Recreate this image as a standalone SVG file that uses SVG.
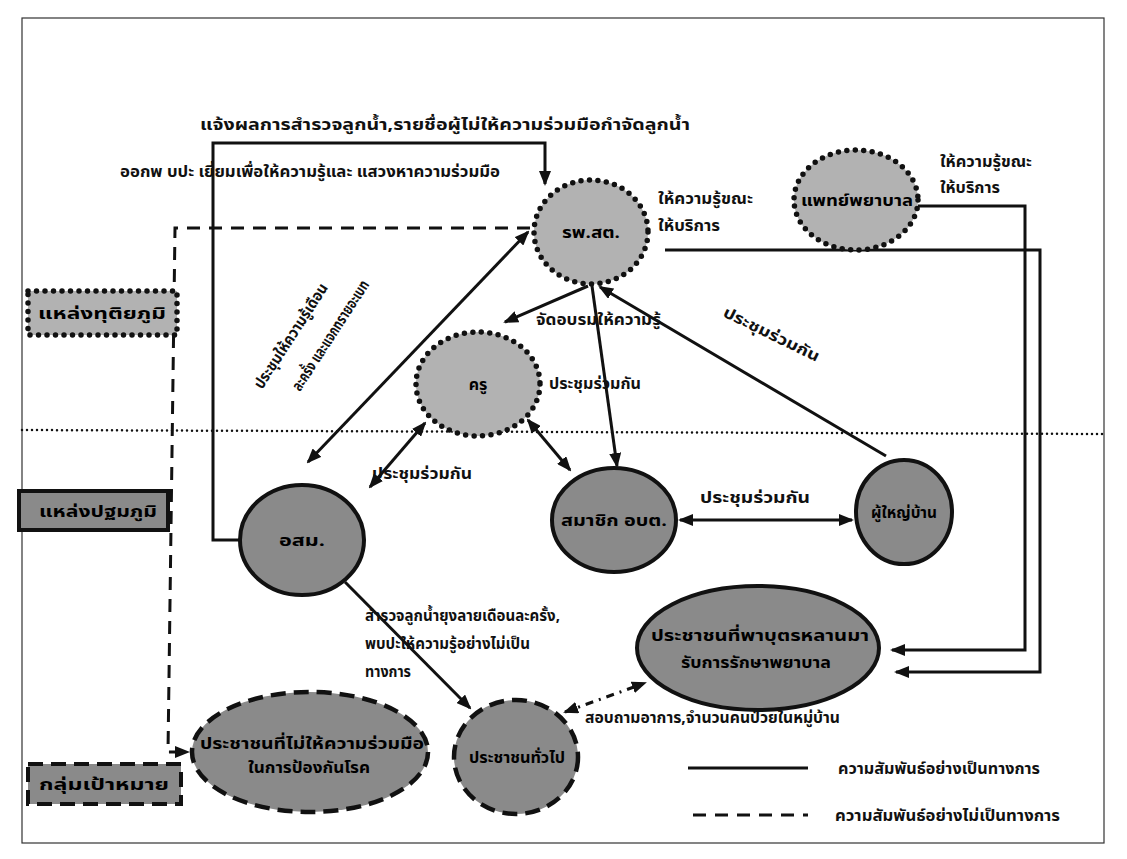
<svg xmlns="http://www.w3.org/2000/svg" width="1127" height="859" viewBox="0 0 1127 859">
<style>
.t{font-family:"Noto Sans Thai","Noto Sans","DejaVu Sans",sans-serif;font-weight:bold;font-size:15.5px;fill:#111}
.lb{font-family:"Noto Sans Thai","Noto Sans","DejaVu Sans",sans-serif;font-weight:bold;font-size:16px;fill:#000;text-anchor:middle}
.c{fill:none;stroke:#111;stroke-width:3}
.dsh{stroke-dasharray:13 9}
.dot{fill:#b2b2b2;stroke:#111;stroke-width:5.5;stroke-linecap:round;stroke-dasharray:0 8.5}
.sol{fill:#8a8a8a;stroke:#111;stroke-width:4}
.dn{fill:#8a8a8a;stroke:#111;stroke-width:4.5;stroke-dasharray:15 8}
</style>
<defs>
<marker id="a" markerWidth="15" markerHeight="12" refX="13" refY="6" orient="auto" markerUnits="userSpaceOnUse"><path d="M0,0 L15,6 L0,12 Z" fill="#111"/></marker>
<marker id="s" markerWidth="15" markerHeight="12" refX="2" refY="6" orient="auto" markerUnits="userSpaceOnUse"><path d="M15,0 L0,6 L15,12 Z" fill="#111"/></marker>
</defs>
<rect x="22" y="18" width="1082" height="825" fill="#fff" stroke="#333" stroke-width="1.2"/>
<line x1="22" y1="430" x2="1104" y2="434" stroke="#111" stroke-width="2.5" stroke-dasharray="0 5" stroke-linecap="round"/>

<g id="connectors">
<path class="c" d="M240,540 L213,540 L213,143 L545,143 L545,184" marker-end="url(#a)"/>
<path class="c dsh" d="M530,228 L175,228 L168,752 L188,752" marker-end="url(#a)"/>
<path class="c" d="M918,206 L1025,206 L1025,650 L892,650" marker-end="url(#a)"/>
<path class="c" d="M665,250 L1040,250 L1040,672 L896,672" marker-end="url(#a)"/>
<path class="c" d="M528,232 L308,462" marker-start="url(#s)" marker-end="url(#a)"/>
<path class="c" d="M588,286 L505,322" marker-end="url(#a)"/>
<path class="c" d="M592,286 L617,466" marker-end="url(#a)"/>
<path class="c" d="M886,456 L600,287" marker-end="url(#a)"/>
<path class="c" d="M425,423 L370,487" marker-start="url(#s)" marker-end="url(#a)"/>
<path class="c" d="M528,420 L570,470" marker-start="url(#s)" marker-end="url(#a)"/>
<path class="c" d="M680,520 L852,520" marker-start="url(#s)" marker-end="url(#a)"/>
<path class="c" d="M345,582 L470,708" marker-end="url(#a)"/>
<path class="c" d="M565,712 L645,683" stroke-dasharray="8 6 2 6" marker-start="url(#s)" marker-end="url(#a)"/>
</g>

<g id="n-rpst"><ellipse class="dot" cx="591" cy="232" rx="57" ry="52"/><text class="lb" x="591" y="238" textLength="58" lengthAdjust="spacingAndGlyphs">รพ.สต.</text></g>
<g id="n-doctor"><ellipse class="dot" cx="856" cy="200" rx="62" ry="50"/><text class="lb" x="857" y="206" textLength="112" lengthAdjust="spacingAndGlyphs">แพทย์พยาบาล</text></g>
<g id="n-teacher"><ellipse class="dot" cx="478" cy="384" rx="62" ry="52"/><text class="lb" x="478" y="390">ครู</text></g>
<g id="n-osm"><ellipse class="sol" cx="302" cy="540" rx="62" ry="55"/><text class="lb" x="302" y="546" textLength="46" lengthAdjust="spacingAndGlyphs">อสม.</text></g>
<g id="n-obt"><ellipse class="sol" cx="614" cy="520" rx="62" ry="52"/><text class="lb" x="614" y="526" textLength="106" lengthAdjust="spacingAndGlyphs">สมาชิก อบต.</text></g>
<g id="n-head"><ellipse class="sol" cx="904" cy="512" rx="48" ry="52"/><text class="lb" x="904" y="518" textLength="66" lengthAdjust="spacingAndGlyphs">ผู้ใหญ่บ้าน</text></g>
<g id="n-parents"><ellipse class="sol" cx="758" cy="648" rx="121" ry="62"/><text class="lb" x="760" y="641" textLength="218" lengthAdjust="spacingAndGlyphs">ประชาชนที่พาบุตรหลานมา</text><text class="lb" x="756" y="668" textLength="150" lengthAdjust="spacingAndGlyphs">รับการรักษาพยาบาล</text></g>
<g id="n-public"><ellipse class="dn" cx="516" cy="757" rx="62" ry="57"/><text class="lb" x="517" y="763" textLength="96" lengthAdjust="spacingAndGlyphs">ประชาชนทั่วไป</text></g>
<g id="n-noncoop"><ellipse class="dn" cx="310" cy="752" rx="118" ry="60"/><text class="lb" x="312" y="749" textLength="224" lengthAdjust="spacingAndGlyphs">ประชาชนที่ไม่ให้ความร่วมมือ</text><text class="lb" x="309" y="773" textLength="122" lengthAdjust="spacingAndGlyphs">ในการป้องกันโรค</text></g>

<g id="b-secondary"><rect x="28" y="291" width="149" height="44" fill="#b2b2b2" stroke="#111" stroke-width="5.5" stroke-linecap="round" stroke-dasharray="0 8.5"/><text class="lb" x="102" y="319" textLength="128" lengthAdjust="spacingAndGlyphs">แหล่งทุติยภูมิ</text></g>
<g id="b-primary"><rect x="19" y="491" width="149" height="39" fill="#8a8a8a" stroke="#111" stroke-width="4"/><text class="lb" x="98" y="517" textLength="118" lengthAdjust="spacingAndGlyphs">แหล่งปฐมภูมิ</text></g>
<g id="b-target"><rect x="28" y="764" width="153" height="40" fill="#8a8a8a" stroke="#111" stroke-width="4" stroke-dasharray="15 8"/><text class="lb" x="104" y="790" textLength="130" lengthAdjust="spacingAndGlyphs">กลุ่มเป้าหมาย</text></g>

<g id="labels">
<text class="t" x="200" y="130" textLength="490" lengthAdjust="spacingAndGlyphs">แจ้งผลการสำรวจลูกน้ำ,รายชื่อผู้ไม่ให้ความร่วมมือกำจัดลูกน้ำ</text>
<text class="t" x="120" y="177" textLength="380" lengthAdjust="spacingAndGlyphs">ออกพ บปะ เยี่ยมเพื่อให้ความรู้และ แสวงหาความร่วมมือ</text>
<text class="t" x="658" y="204" textLength="95" lengthAdjust="spacingAndGlyphs">ให้ความรู้ขณะ</text>
<text class="t" x="658" y="231" textLength="62" lengthAdjust="spacingAndGlyphs">ให้บริการ</text>
<text class="t" x="940" y="167" textLength="92" lengthAdjust="spacingAndGlyphs">ให้ความรู้ขณะ</text>
<text class="t" x="940" y="193" textLength="60" lengthAdjust="spacingAndGlyphs">ให้บริการ</text>
<text class="t" transform="translate(262,390) rotate(-57)" textLength="122" lengthAdjust="spacingAndGlyphs">ประชุมให้ความรู้เดือน</text>
<text class="t" transform="translate(300,392) rotate(-57)" textLength="128" lengthAdjust="spacingAndGlyphs">ละครั้ง และแจกทรายอะเบท</text>
<text class="t" x="536" y="325" textLength="125" lengthAdjust="spacingAndGlyphs">จัดอบรมให้ความรู้</text>
<text class="t" transform="translate(722,316) rotate(26)" textLength="105" lengthAdjust="spacingAndGlyphs">ประชุมร่วมกัน</text>
<text class="t" x="549" y="389" textLength="92" lengthAdjust="spacingAndGlyphs">ประชุมร่วมกัน</text>
<text class="t" x="372" y="479" textLength="100" lengthAdjust="spacingAndGlyphs">ประชุมร่วมกัน</text>
<text class="t" x="700" y="503" textLength="110" lengthAdjust="spacingAndGlyphs">ประชุมร่วมกัน</text>
<text class="t" x="365" y="621" textLength="195" lengthAdjust="spacingAndGlyphs">สำรวจลูกน้ำยุงลายเดือนละครั้ง,</text>
<text class="t" x="365" y="649" textLength="165" lengthAdjust="spacingAndGlyphs">พบปะให้ความรู้อย่างไม่เป็น</text>
<text class="t" x="365" y="677" textLength="46" lengthAdjust="spacingAndGlyphs">ทางการ</text>
<text class="t" x="585" y="723" textLength="255" lengthAdjust="spacingAndGlyphs">สอบถามอาการ,จำนวนคนป่วยในหมู่บ้าน</text>
</g>

<g id="legend">
<line x1="688" y1="768" x2="808" y2="768" stroke="#111" stroke-width="3"/>
<line x1="693" y1="815" x2="808" y2="815" stroke="#111" stroke-width="3" stroke-dasharray="13 9"/>
<text class="t" x="838" y="774" textLength="202" lengthAdjust="spacingAndGlyphs">ความสัมพันธ์อย่างเป็นทางการ</text>
<text class="t" x="835" y="821" textLength="225" lengthAdjust="spacingAndGlyphs">ความสัมพันธ์อย่างไม่เป็นทางการ</text>
</g>
</svg>
